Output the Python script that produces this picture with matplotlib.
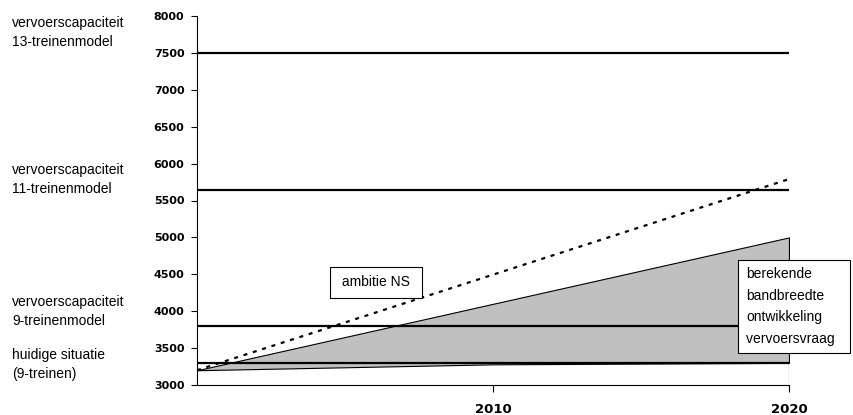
import numpy as np
import matplotlib.pyplot as plt

# data
years = [2000, 2010, 2020]
band_lower = [3200, 3280, 3300]      # onderkant bandbreedte vervoersvraag
band_upper = [3200, 4100, 5000]      # bovenkant bandbreedte vervoersvraag
ambition_years = [2000, 2020]
ambition_ns = [3200, 5790]
capacities = [3300, 3800, 5640, 7500]
capacity_labels = ["huidige situatie\n(9-treinen)",
                   "vervoerscapaciteit\n9-treinenmodel",
                   "vervoerscapaciteit\n11-treinenmodel",
                   "vervoerscapaciteit\n13-treinenmodel"]
capacity_label_y = [3280, 3995, 5780, 7770]   # centre of the side labels (data units)
y_ticks = np.arange(3000, 8001, 500)
x_ticks = [2010, 2020]

plt.rcParams['font.family'] = ['Liberation Sans', 'DejaVu Sans']

fig = plt.figure(figsize=(8.54, 4.15), dpi=100)
ax = fig.add_axes([197 / 854, 1 - 385 / 415, 592 / 854, 369 / 415])

ax.fill_between(years, band_lower, band_upper, facecolor='#c0c0c0',
                edgecolor='black', linewidth=0.8, zorder=1)
ax.vlines(years[-1], y_ticks[0], band_upper[-1], color='black', linewidth=0.8, zorder=2)

for cap in capacities:
    ax.plot([years[0], years[-1]], [cap, cap], color='black', linewidth=1.6, zorder=3)

ax.plot(ambition_years, ambition_ns, color='black', linewidth=1.6,
        linestyle=(0, (1.8, 2.6)), zorder=4)

ax.set_xlim(years[0], years[-1])
ax.set_ylim(y_ticks[0], y_ticks[-1])
ax.set_yticks(y_ticks)
ax.set_xticks(x_ticks)
ax.set_yticklabels([str(v) for v in y_ticks], fontfamily='DejaVu Sans',
                   fontweight='bold', fontsize=8)
ax.set_xticklabels([str(v) for v in x_ticks], fontfamily='DejaVu Sans',
                   fontweight='bold', fontsize=9.5)
ax.tick_params(axis='y', length=4, width=0.8, pad=5)
ax.tick_params(axis='x', length=5, width=0.8, pad=8)
for side in ['top', 'right']:
    ax.spines[side].set_visible(False)
ax.spines['left'].set_linewidth(0.8)
ax.spines['bottom'].set_linewidth(0.8)

# side labels
for lab, ly in zip(capacity_labels, capacity_label_y):
    ax.text(-185 / 592, ly, lab, transform=ax.get_yaxis_transform(), fontsize=10,
            ha='left', va='center', linespacing=1.45, clip_on=False)

ax.text(2006.05, 4389, " ambitie NS ", fontsize=10, ha='center', va='center',
        bbox=dict(boxstyle='square,pad=0.6', facecolor='white',
                  edgecolor='black', linewidth=0.8), zorder=5)

ax.text(2018.55, 4064, "berekende\nbandbreedte\nontwikkeling\nvervoersvraag  ",
        fontsize=10, ha='left', va='center', linespacing=1.68,
        bbox=dict(boxstyle='square,pad=0.55', facecolor='white',
                  edgecolor='black', linewidth=0.8), zorder=5, clip_on=False)

fig.savefig('out.png', dpi=100)
